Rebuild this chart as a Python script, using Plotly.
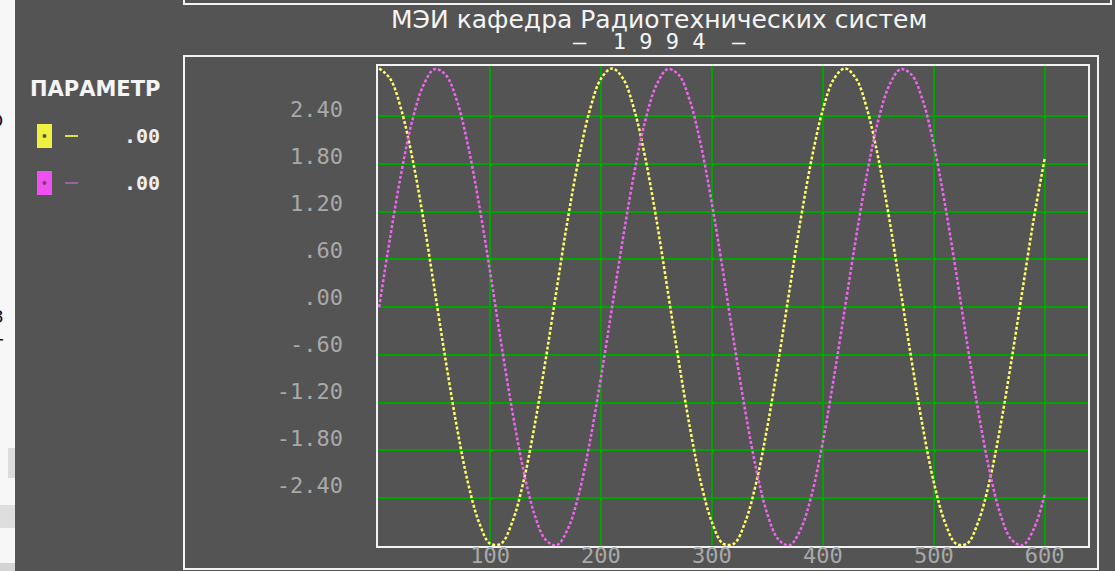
import plotly.graph_objects as go

# ---------------- data ----------------
X_VALUES = [0, 10, 20, 30, 40, 50, 60, 70, 80, 90,
            100, 110, 120, 130, 140, 150, 160, 170, 180, 190,
            200, 210, 220, 230, 240, 250, 260, 270, 280, 290,
            300, 310, 320, 330, 340, 350, 360, 370, 380, 390,
            400, 410, 420, 430, 440, 450, 460, 470, 480, 490,
            500, 510, 520, 530, 540, 550, 560, 570, 580, 590,
            600]

YELLOW_VALUES = [3.00, 2.87, 2.48, 1.87, 1.10, 0.22, -0.67, -1.50, -2.20, -2.70,
                 -2.97, -2.97, -2.70, -2.20, -1.50, -0.67, 0.22, 1.10, 1.87, 2.48,
                 2.87, 3.00, 2.87, 2.48, 1.87, 1.10, 0.22, -0.67, -1.50, -2.20,
                 -2.70, -2.97, -2.97, -2.70, -2.20, -1.50, -0.67, 0.22, 1.10, 1.87,
                 2.48, 2.87, 3.00, 2.87, 2.48, 1.87, 1.10, 0.22, -0.67, -1.50,
                 -2.20, -2.70, -2.97, -2.97, -2.70, -2.20, -1.50, -0.67, 0.22, 1.10,
                 1.87]

MAGENTA_VALUES = [0.00, 0.88, 1.69, 2.35, 2.79, 2.99, 2.92, 2.60, 2.04, 1.30,
                  0.45, -0.45, -1.30, -2.04, -2.60, -2.92, -2.99, -2.79, -2.35, -1.69,
                  -0.88, 0.00, 0.88, 1.69, 2.35, 2.79, 2.99, 2.92, 2.60, 2.04,
                  1.30, 0.45, -0.45, -1.30, -2.04, -2.60, -2.92, -2.99, -2.79, -2.35,
                  -1.69, -0.88, 0.00, 0.88, 1.69, 2.35, 2.79, 2.99, 2.92, 2.60,
                  2.04, 1.30, 0.45, -0.45, -1.30, -2.04, -2.60, -2.92, -2.99, -2.79,
                  -2.35]

X_TICKS = [100, 200, 300, 400, 500, 600]
X_TICK_LABELS = ["100", "200", "300", "400", "500", "600"]
Y_TICKS = [2.4, 1.8, 1.2, 0.6, 0.0, -0.6, -1.2, -1.8, -2.4]
Y_TICK_LABELS = ["2.40", "1.80", "1.20", ".60", ".00", "-.60", "-1.20", "-1.80", "-2.40"]

TITLE_LINE1 = "МЭИ кафедра Радиотехнических систем"
TITLE_LINE2 = "–  1 9 9 4  –"
LEGEND_TITLE = "ПАРАМЕТР"
LEGEND_VALUES = [".00", ".00"]

# ---------------- styling ----------------
BG = "#545454"
GREEN = "#00a400"
FRAME = "#f2f2f2"
TICK = "#a9a9a9"
YELLOW = "#ffff66"
MAGENTA = "#ee66ee"
MONO = "DejaVu Sans Mono"
SANS = "DejaVu Sans"

W, H = 1115, 571
L, R, T, B = 378, 1088, 66, 546


def px(x):
    return (x - L) / (R - L)


def py(y):
    return (B - y) / (B - T)


fig = go.Figure()
fig.add_trace(go.Scatter(x=X_VALUES, y=YELLOW_VALUES, mode="lines",
                         line=dict(color=YELLOW, width=2.5, dash="3px,2px", shape="spline"),
                         hoverinfo="skip", showlegend=False))
fig.add_trace(go.Scatter(x=X_VALUES, y=MAGENTA_VALUES, mode="lines",
                         line=dict(color=MAGENTA, width=2.5, dash="3px,2px", shape="spline"),
                         hoverinfo="skip", showlegend=False))
# empty trace so the label axis is instantiated
fig.add_trace(go.Scatter(x=[], y=[], yaxis="y2", hoverinfo="skip", showlegend=False))

shapes = [
    # left strip of another window
    dict(type="rect", x0=px(-5), x1=px(15), y0=py(-5), y1=py(576),
         fillcolor="#f7f7f7", line=dict(width=0)),
    dict(type="rect", x0=px(8), x1=px(15), y0=py(448), y1=py(478),
         fillcolor="#dcdcdc", line=dict(width=0)),
    dict(type="rect", x0=px(-5), x1=px(15), y0=py(505), y1=py(528),
         fillcolor="#dedede", line=dict(width=0)),
    dict(type="rect", x0=px(-5), x1=px(15), y0=py(563), y1=py(576),
         fillcolor="#d4d4d4", line=dict(width=0)),
    # top box and outer box
    dict(type="rect", x0=px(184), x1=px(1111), y0=py(-20), y1=py(4),
         line=dict(color=FRAME, width=2)),
    dict(type="rect", x0=px(184), x1=px(1098), y0=py(56), y1=py(569),
         line=dict(color=FRAME, width=2)),
    # legend swatches
    dict(type="rect", x0=px(37), x1=px(52), y0=py(148), y1=py(124),
         fillcolor="#f0f040", line=dict(width=0)),
    dict(type="circle", x0=px(42.5), x1=px(46.5), y0=py(138), y1=py(134),
         fillcolor="#555533", line=dict(width=0)),
    dict(type="rect", x0=px(37), x1=px(52), y0=py(195), y1=py(171),
         fillcolor="#f050f0", line=dict(width=0)),
    dict(type="circle", x0=px(42.5), x1=px(46.5), y0=py(185), y1=py(181),
         fillcolor="#704070", line=dict(width=0)),
    dict(type="line", x0=px(65), x1=px(78), y0=py(136), y1=py(136),
         line=dict(color="#e0e040", width=2)),
    dict(type="line", x0=px(65), x1=px(78), y0=py(183), y1=py(183),
         line=dict(color="#a060a0", width=2)),
]
for s in shapes:
    s.update(xref="paper", yref="paper")

annotations = [
    dict(text=TITLE_LINE1, x=px(659), y=py(20), font=dict(family=SANS, size=25, color="#f4f4f4"),
         xanchor="center", yanchor="middle"),
    dict(text=TITLE_LINE2, x=px(659), y=py(41), font=dict(family=MONO, size=22, color="#f4f4f4"),
         xanchor="center", yanchor="middle"),
    dict(text="<b>" + LEGEND_TITLE + "</b>", x=px(95), y=py(89),
         font=dict(family=SANS, size=21, color="#f4f4f4"), xanchor="center", yanchor="middle"),
    dict(text="<b>" + LEGEND_VALUES[0] + "</b>", x=px(162), y=py(136),
         font=dict(family=MONO, size=20, color="#eeeeee"), xanchor="right", yanchor="middle"),
    dict(text="<b>" + LEGEND_VALUES[1] + "</b>", x=px(162), y=py(183),
         font=dict(family=MONO, size=20, color="#eeeeee"), xanchor="right", yanchor="middle"),
    # clipped glyphs of the neighbouring window
    dict(text="О", x=px(-4), y=py(120), font=dict(family=SANS, size=18, color="#111111"),
         xanchor="center", yanchor="middle"),
    dict(text="З", x=px(-2), y=py(316), font=dict(family=SANS, size=18, color="#111111"),
         xanchor="center", yanchor="middle"),
    dict(text="Г", x=px(-2), y=py(345), font=dict(family=SANS, size=18, color="#111111"),
         xanchor="center", yanchor="middle"),
]
for a in annotations:
    a.update(xref="paper", yref="paper", showarrow=False)

fig.update_layout(
    width=W, height=H, autosize=False,
    margin=dict(l=L, r=W - R, t=T, b=H - B, pad=0, autoexpand=False),
    paper_bgcolor=BG, plot_bgcolor=BG, showlegend=False,
    xaxis=dict(range=[-1, 639], tickvals=X_TICKS, ticktext=X_TICK_LABELS,
               showgrid=True, gridcolor=GREEN, gridwidth=2, zeroline=False,
               showline=True, mirror=True, linecolor=FRAME, linewidth=2, ticks="",
               tickfont=dict(family=MONO, size=22, color=TICK), ticklabelstandoff=-11,
               automargin=False, fixedrange=True),
    yaxis=dict(range=[-3.0, 3.03], tickvals=Y_TICKS, showticklabels=False,
               showgrid=True, gridcolor=GREEN, gridwidth=2, zeroline=False,
               showline=True, mirror=True, linecolor=FRAME, linewidth=2, ticks="",
               automargin=False, fixedrange=True),
    yaxis2=dict(range=[-3.181, 2.951], overlaying="y", side="left", anchor="x",
                tickvals=Y_TICKS, ticktext=Y_TICK_LABELS, showgrid=False, zeroline=False,
                showline=False, ticks="", tickfont=dict(family=MONO, size=22, color=TICK),
                ticklabelstandoff=34, automargin=False, fixedrange=True),
    shapes=shapes, annotations=annotations,
)

fig.write_html("out.html")
